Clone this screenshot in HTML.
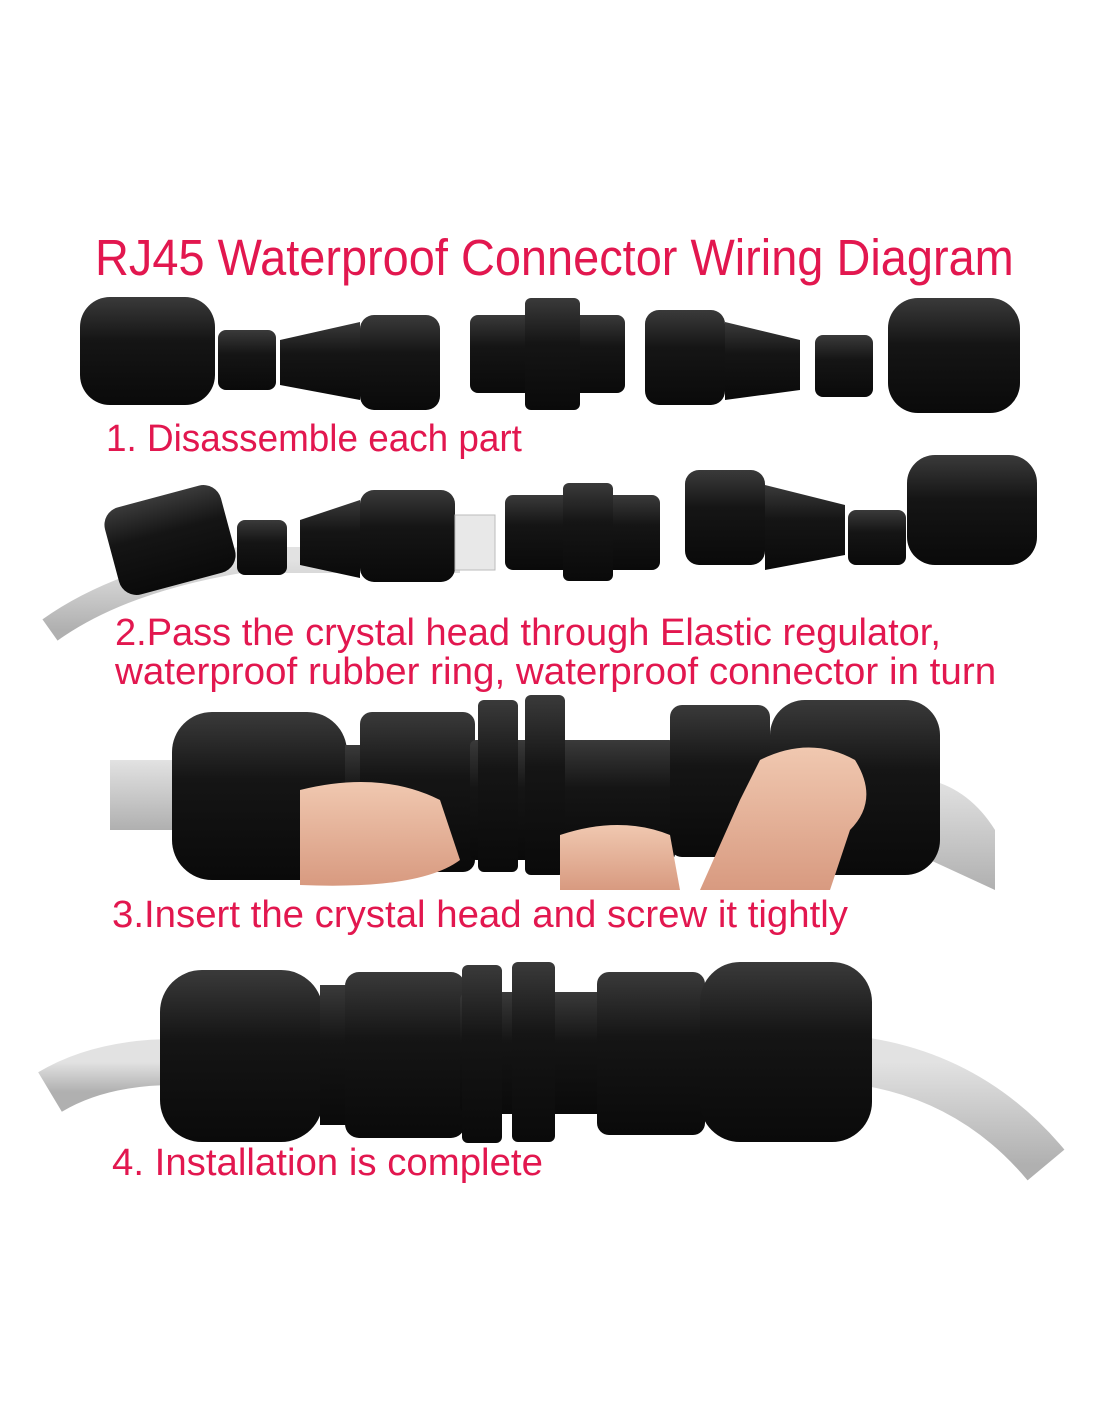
<!DOCTYPE html>
<html><head><meta charset="utf-8"><style>
html,body{margin:0;padding:0;background:#fff;}
body{width:1100px;height:1422px;position:relative;overflow:hidden;font-family:"Liberation Sans Narrow","Liberation Sans",sans-serif;}
.t{position:absolute;color:#e2174f;white-space:nowrap;transform-origin:left top;}
svg{position:absolute;left:0;top:0;}
</style></head><body>
<svg width="1100" height="1422" viewBox="0 0 1100 1422">
<defs>
<linearGradient id="b" x1="0" y1="0" x2="0" y2="1"><stop offset="0" stop-color="#3a3a3a"/><stop offset="0.4" stop-color="#151515"/><stop offset="1" stop-color="#0a0a0a"/></linearGradient>
<linearGradient id="c" x1="0" y1="0" x2="0" y2="1"><stop offset="0" stop-color="#e2e2e2"/><stop offset="1" stop-color="#b0b0b0"/></linearGradient>
<linearGradient id="s" x1="0" y1="0" x2="0" y2="1"><stop offset="0" stop-color="#f0c8b0"/><stop offset="1" stop-color="#d89a80"/></linearGradient>
</defs>
<!-- row 1 -->
<g fill="url(#b)">
<rect x="80" y="297" width="135" height="108" rx="30"/>
<rect x="218" y="330" width="58" height="60" rx="8"/>
<path d="M280 340 L360 322 L360 400 L280 385 Z"/>
<rect x="360" y="315" width="80" height="95" rx="14"/>
<rect x="470" y="315" width="155" height="78" rx="8"/>
<rect x="525" y="298" width="55" height="112" rx="6"/>
<rect x="645" y="310" width="80" height="95" rx="14"/>
<path d="M725 322 L800 340 L800 390 L725 400 Z"/>
<rect x="815" y="335" width="58" height="62" rx="8"/>
<rect x="888" y="298" width="132" height="115" rx="30"/>
</g>
<!-- row 2 -->
<path d="M50 630 Q120 580 240 560 L460 560" stroke="url(#c)" stroke-width="26" fill="none"/>
<g fill="url(#b)">
<rect x="110" y="495" width="120" height="90" rx="18" transform="rotate(-15 170 540)"/>
<rect x="237" y="520" width="50" height="55" rx="8"/>
<path d="M300 520 L360 500 L360 578 L300 565 Z"/>
<rect x="360" y="490" width="95" height="92" rx="14"/>
<rect x="505" y="495" width="155" height="75" rx="8"/>
<rect x="563" y="483" width="50" height="98" rx="6"/>
<rect x="685" y="470" width="80" height="95" rx="14"/>
<path d="M765 485 L845 505 L845 555 L765 570 Z"/>
<rect x="848" y="510" width="58" height="55" rx="8"/>
<rect x="907" y="455" width="130" height="110" rx="28"/>
</g>
<rect x="455" y="515" width="40" height="55" fill="#e8e8e8" stroke="#bbb"/>
<!-- row 3 -->
<rect x="110" y="760" width="70" height="70" fill="url(#c)"/>
<path d="M930 780 Q970 790 995 830 L995 890 L930 860 Z" fill="url(#c)"/>
<g fill="url(#b)">
<rect x="172" y="712" width="175" height="168" rx="40"/>
<rect x="345" y="745" width="20" height="110"/>
<rect x="360" y="712" width="115" height="160" rx="12"/>
<rect x="470" y="740" width="205" height="120" rx="6"/>
<rect x="478" y="700" width="40" height="172" rx="6"/>
<rect x="525" y="695" width="40" height="180" rx="6"/>
<rect x="670" y="705" width="100" height="152" rx="12"/>
<rect x="770" y="700" width="170" height="175" rx="35"/>
</g>
<path d="M300 790 Q380 770 440 800 L460 860 Q420 890 300 885 Z" fill="url(#s)"/>
<path d="M560 835 Q620 815 670 835 L680 890 L560 890 Z" fill="url(#s)"/>
<path d="M760 760 Q810 735 855 760 Q880 800 850 830 L830 890 L700 890 L740 800 Z" fill="url(#s)"/>
<!-- row 4 -->
<path d="M50 1092 Q100 1062 175 1062" stroke="url(#c)" stroke-width="46" fill="none"/>
<path d="M868 1062 Q975 1080 1046 1165" stroke="url(#c)" stroke-width="48" fill="none"/>
<g fill="url(#b)">
<rect x="160" y="970" width="163" height="172" rx="42"/>
<rect x="320" y="985" width="30" height="140"/>
<rect x="345" y="972" width="120" height="166" rx="14"/>
<rect x="460" y="992" width="145" height="122" rx="8"/>
<rect x="462" y="965" width="40" height="178" rx="6"/>
<rect x="512" y="962" width="43" height="180" rx="6"/>
<rect x="597" y="972" width="108" height="163" rx="12"/>
<rect x="700" y="962" width="172" height="180" rx="40"/>
</g>
</svg>
<div class="t" style="left:95px;top:228px;font-size:51px;transform:scaleX(0.92)">RJ45 Waterproof Connector Wiring Diagram</div>
<div class="t" style="left:106px;top:418px;font-size:38px;transform:scaleX(0.97)">1. Disassemble each part</div>
<div class="t" style="left:115px;top:612px;font-size:38px;">2.Pass the crystal head through Elastic regulator,</div>
<div class="t" style="left:115px;top:651px;font-size:38px;transform:scaleX(1.015)">waterproof rubber ring, waterproof connector in turn</div>
<div class="t" style="left:112px;top:894px;font-size:38px;transform:scaleX(1.01)">3.Insert the crystal head and screw it tightly</div>
<div class="t" style="left:112px;top:1142px;font-size:38px;transform:scaleX(1.01)">4. Installation is complete</div>
</body></html>
